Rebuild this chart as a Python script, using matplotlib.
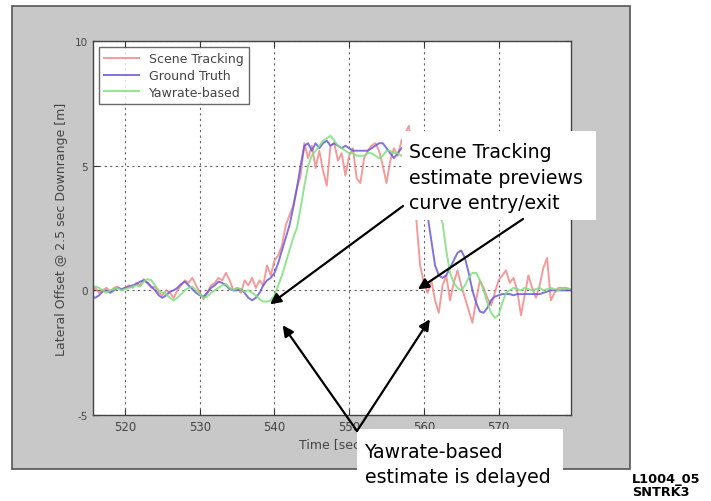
import numpy as np
import matplotlib
matplotlib.use("Agg")
import matplotlib.pyplot as plt
from matplotlib.patches import Rectangle

plt.rcParams["axes.unicode_minus"] = False

# sample times [sec], 0.5 s step
t = np.arange(515.5, 580.01, 0.5)

scene_tracking = [
    0.0, 0.1, -0.1, 0.0, 0.1, -0.05, 0.1, 0.15, 0.0, 0.1,
    0.2, 0.1, 0.3, 0.2, 0.45, 0.3, 0.1, 0.15, -0.1, -0.2,
    0.0, -0.1, -0.3, 0.0, 0.2, 0.4, 0.3, 0.5, 0.2, -0.1,
    -0.35, -0.1, 0.2, 0.3, 0.5, 0.4, 0.7, 0.4, 0.0, 0.1,
    -0.1, 0.4, 0.2, 0.5, 0.1, 0.4, 0.2, 1.0, 0.6, 1.2,
    1.4, 1.8, 2.6, 3.0, 3.4, 4.1, 4.6, 5.9, 5.3, 5.8,
    4.9, 5.6, 4.8, 4.2, 5.8, 5.9, 5.2, 5.5, 4.6, 5.4,
    5.7, 4.5, 4.3, 5.3, 5.6, 5.8, 5.9, 5.6, 5.0, 4.3,
    5.2, 5.7, 5.4, 6.0, 6.3, 6.6, 5.0, 2.8, 1.0, 0.3,
    -0.1, 0.4, -0.4, -0.9, 0.2, 0.6, -0.4, 0.3, 0.8, 0.2,
    -0.3, -0.8, -1.3, -0.4, 0.4, 0.1, -0.3, -0.6, -0.1, 0.4,
    0.6, 0.8, 0.3, 0.5, 0.0, -1.0, -0.2, 0.6, 0.1, -0.3,
    0.2, 0.9, 1.3, -0.4, -0.1, 0.1, 0.1, 0.1, 0.05, 0.05,
]

ground_truth = [
    -0.25, -0.3, -0.2, -0.05, 0.0, -0.1, 0.0, 0.1, 0.05, 0.1,
    0.15, 0.2, 0.25, 0.35, 0.4, 0.3, 0.15, 0.0, -0.2, -0.3,
    -0.2, -0.05, 0.0, 0.1, 0.25, 0.35, 0.2, 0.05, -0.1, -0.2,
    -0.25, -0.1, 0.1, 0.2, 0.35, 0.3, 0.2, 0.05, 0.0, 0.0,
    0.05, -0.1, -0.3, -0.4, -0.3, -0.1, 0.2, 0.4, 0.5, 0.7,
    1.1, 1.6, 2.1, 2.6, 3.3, 4.1, 5.0, 5.8, 5.9, 5.6,
    5.9, 5.7, 5.9, 6.0, 5.8, 5.9, 5.8, 5.7, 5.8, 5.7,
    5.6, 5.6, 5.6, 5.6, 5.6, 5.7, 5.8, 5.9, 5.9, 5.7,
    5.5, 5.3, 5.5, 5.7, 5.8, 5.7, 5.6, 5.2, 4.6, 3.8,
    3.0, 2.0, 1.0, 0.6, 0.5, 0.6, 0.9, 1.2, 1.5, 1.6,
    1.3, 0.7, 0.0, -0.5, -0.85, -0.9, -0.7, -0.4, -0.25, -0.2,
    -0.15, -0.15, -0.15, -0.2, -0.15, -0.15, -0.15, -0.15, -0.15, -0.15,
    -0.15, -0.1, -0.05, 0.0, 0.0, 0.0, 0.0, 0.0, 0.0, 0.0,
]

yawrate_based = [
    0.1, 0.15, 0.1, 0.0, -0.1, 0.0, 0.05, 0.1, 0.0, 0.05,
    0.1, 0.15, 0.2, 0.15, 0.35, 0.45, 0.4, 0.2, 0.0, -0.1,
    -0.15, -0.3, -0.4, -0.3, -0.15, 0.0, 0.1, 0.15, 0.0, -0.15,
    -0.3, -0.25, -0.1, 0.0, 0.1, 0.2, 0.25, 0.1, 0.0, 0.1,
    0.05, -0.05, 0.0, -0.1, -0.2, -0.35, -0.45, -0.45, -0.4, -0.2,
    0.2, 0.6, 1.1, 1.6, 2.1, 2.5, 3.3, 4.2, 5.0, 5.4,
    5.6, 5.8, 6.0, 6.1, 6.2, 6.0, 5.8, 5.7, 5.6, 5.5,
    5.5, 5.4, 5.4, 5.4, 5.5, 5.5, 5.4, 5.3, 5.4, 5.6,
    5.6, 5.5, 5.5, 5.4, 5.5, 5.4, 5.4, 5.3, 5.2, 5.0,
    4.6, 4.2, 3.6, 3.2, 2.7, 1.6, 0.7, 0.3, 0.1, 0.0,
    0.2, 0.5, 0.7, 0.7, 0.4, 0.0, -0.5, -0.9, -1.1, -1.0,
    -0.5, -0.1, 0.0, 0.1, 0.05, 0.0, 0.1, 0.05, 0.0, 0.05,
    0.1, 0.0, 0.05, 0.1, 0.05, 0.0, 0.05, 0.1, 0.05, 0.05,
]

x_ticks = [520, 530, 540, 550, 560, 570]
y_ticks = [-5, 0, 5, 10]

W, H = 711, 502
fig = plt.figure(figsize=(W / 100, H / 100), dpi=100, facecolor="white")

def px_rect(x0, y0, x1, y1, **kw):
    # rectangle given in image pixels (origin top-left)
    r = Rectangle((x0 / W, 1 - y1 / H), (x1 - x0) / W, (y1 - y0) / H,
                  transform=fig.transFigure, **kw)
    fig.add_artist(r)
    return r

# grey matlab figure window
px_rect(12, 7, 630, 470, facecolor="#c8c8c8", edgecolor="#555555", lw=1.2, zorder=-5)

ax = fig.add_axes([93 / W, 1 - 416 / H, (571 - 93) / W, (416 - 42) / H])
ax.set_facecolor("white")

ax.plot(t, scene_tracking, color="#f28a8a", lw=1.4, alpha=0.85, label="Scene Tracking")
ax.plot(t, ground_truth, color="#6a5ad8", lw=1.4, alpha=0.85, label="Ground Truth")
ax.plot(t, yawrate_based, color="#7ee07e", lw=1.4, alpha=0.85, label="Yawrate-based")

ax.set_xlim(515.7, 579.7)
ax.set_ylim(-5, 10)
ax.set_xticks(x_ticks)
ax.set_yticks(y_ticks)
ax.grid(True, color="#666666", linestyle=(0, (2, 3)), lw=0.8)
ax.tick_params(direction="in", length=4, width=0.8, top=True, right=True,
               labelcolor="#444444", color="#333333")
ax.tick_params(axis="x", labelsize=8.5)
ax.tick_params(axis="y", labelsize=7.5)
for s in ax.spines.values():
    s.set_color("#444444")
    s.set_linewidth(1.0)

ax.set_xlabel("Time [sec]", fontsize=9, color="#444444", labelpad=3)
ax.set_ylabel("Lateral Offset @ 2.5 sec Downrange [m]", fontsize=9, color="#444444", labelpad=5)

leg = ax.legend(loc="upper left", fontsize=9, frameon=True, fancybox=False,
                edgecolor="#444444", handlelength=2.8, borderaxespad=0.5,
                labelspacing=0.3, borderpad=0.4)
for txt in leg.get_texts():
    txt.set_color("#444444")
leg.get_frame().set_linewidth(1.0)

# callout boxes
px_rect(402, 132, 596, 221, facecolor="white", edgecolor="none", zorder=5)
px_rect(357, 430, 563, 502, facecolor="white", edgecolor="none", zorder=5)

fig.text(409 / W, 1 - 178 / H, "Scene Tracking\nestimate previews\ncurve entry/exit",
         fontsize=13.6, ha="left", va="center", linespacing=1.42, zorder=6)
fig.text(365 / W, 1 - 465 / H, "Yawrate-based\nestimate is delayed",
         fontsize=13.6, ha="left", va="center", linespacing=1.42, zorder=6)
fig.text(632 / W, 1 - 486 / H, "L1004_05\nSNTRK3", fontsize=9.3, fontweight="bold",
         ha="left", va="center", linespacing=1.0, zorder=6)

arrow_kw = dict(arrowstyle="-|>", color="black", lw=1.6, mutation_scale=16,
                shrinkA=0, shrinkB=0)
arrows = [
    ((539.4, -0.56), (403, 207)),
    ((559.2, 0.04), (523, 220)),
    ((541.1, -1.4), (357, 432)),
    ((560.8, -1.16), (357, 432)),
]
for tip, start in arrows:
    a = fig.add_artist(plt.Annotation("", xy=tip, xycoords=ax.transData,
                                      xytext=(start[0], H - start[1]),
                                      textcoords="figure pixels",
                                      arrowprops=arrow_kw, annotation_clip=False))
    a.set_zorder(7)

fig.savefig("out.png", dpi=100, facecolor="white")
